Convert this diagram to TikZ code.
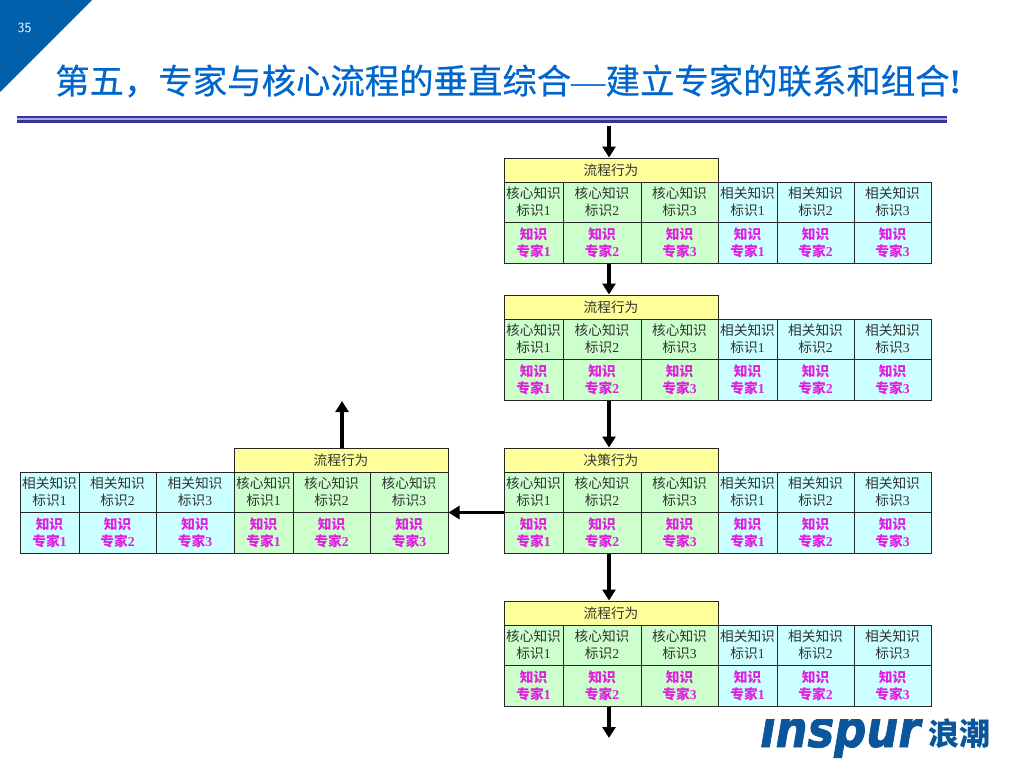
\documentclass[tikz,border=0pt]{standalone}
\usepackage{fontspec}
\setmainfont{Liberation Serif}
\newfontfamily\cjk{Noto Sans CJK SC}
\newfontfamily\titlecjk[FakeBold=0.5]{Noto Sans CJK SC}
\newfontfamily\logofont[FakeBold=1.6]{DejaVu Sans}
\usetikzlibrary{arrows.meta}
\definecolor{titleblue}{HTML}{0066CC}
\definecolor{cornerblue}{HTML}{0060AC}
\definecolor{logoblue}{HTML}{0B559B}
\definecolor{headyellow}{HTML}{FFFF99}
\definecolor{coregreen}{HTML}{CCFFCC}
\definecolor{relcyan}{HTML}{CCFFFF}
\definecolor{expertpink}{HTML}{E01FE0}
\definecolor{ruleblue}{HTML}{363698}
\definecolor{rulelight}{HTML}{A8A8E0}
\tikzset{
  cell/.style={draw=black!85,line width=1pt,inner sep=0pt,align=center,
    font=\fontsize{13.7}{17}\selectfont,text=black!80},
  expert/.style={cell,font=\fontsize{13.7}{17}\selectfont\bfseries,text=expertpink},
  flow/.style={line width=3.4pt,-{Triangle[length=11pt,width=13pt]}},
}
% one cell: style, name, left, right, top, bottom, fill, text
\newcommand{\cellat}[8]{%
  \node[#1,fill=#7,minimum width={(#4)-(#3)},minimum height={(#6)-(#5)}]
    (#2) at ({((#3)+(#4))/2},{((#5)+(#6))/2}) {#8};}
% pair of cells in one column: name, left, right, top, fill, kind, number
\newcommand{\column}[7]{%
  \cellat{cell}{#1a}{#2}{#3}{#4}{#4+40}{#5}{{\cjk #6知识}\\{\cjk 标识}#7}
  \cellat{expert}{#1b}{#2}{#3}{#4+40}{#4+81}{#5}{{\cjk 知识}\\{\cjk 专家}#7}}
% core cells on the left of related cells
\newcommand{\mainblock}[3]{%
  \begin{scope}[shift={(0,#2)}]
    \cellat{cell}{#1h}{504}{718}{0}{24}{headyellow}{\cjk #3}
    \column{#1c1}{504}{563}{24}{coregreen}{核心}{1}
    \column{#1c2}{563}{641}{24}{coregreen}{核心}{2}
    \column{#1c3}{641}{718}{24}{coregreen}{核心}{3}
    \column{#1r1}{718}{777}{24}{relcyan}{相关}{1}
    \column{#1r2}{777}{854}{24}{relcyan}{相关}{2}
    \column{#1r3}{854}{931}{24}{relcyan}{相关}{3}
  \end{scope}}

\begin{document}
\begin{tikzpicture}[x=1pt,y=-1pt]
  \useasboundingbox (0,0) rectangle (1024,768);
  \fill[cornerblue] (0,0) -- (92,0) -- (0,92) -- cycle;
  \node[text=white,font=\fontsize{14}{14}\selectfont\sffamily] (pagenum) at (24.5,28) {35};
  \node[text=titleblue,anchor=west,inner sep=0pt,font=\fontsize{34.4}{36}\selectfont\titlecjk] (title)
    at (55,81) {第五，专家与核心流程的垂直综合{\rmfamily —}建立专家的联系和组合{\rmfamily\bfseries !}};
  \fill[ruleblue] (17,116) rectangle (947,123);
  \fill[rulelight] (17,118.3) rectangle (947,119.5);

  \mainblock{one}{158}{流程行为}
  \mainblock{two}{295}{流程行为}
  \mainblock{three}{448}{决策行为}
  \mainblock{four}{601}{流程行为}

  % side block, reached from the decision
  \begin{scope}[shift={(0,448)}]
    \cellat{cell}{sideh}{234}{448}{0}{24}{headyellow}{\cjk 流程行为}
    \column{sider1}{20}{79}{24}{relcyan}{相关}{1}
    \column{sider2}{79}{156}{24}{relcyan}{相关}{2}
    \column{sider3}{156}{234}{24}{relcyan}{相关}{3}
    \column{sidec1}{234}{293}{24}{coregreen}{核心}{1}
    \column{sidec2}{293}{370}{24}{coregreen}{核心}{2}
    \column{sidec3}{370}{448}{24}{coregreen}{核心}{3}
  \end{scope}

  \coordinate (topin) at (609,126);
  \coordinate (bottomout) at (609,738);
  \coordinate (sideout) at (342,401);
  \draw[flow] (topin) -- (topin |- oneh.north);
  \draw[flow] (topin |- onec2b.south) -- (topin |- twoh.north);
  \draw[flow] (topin |- twoc2b.south) -- (topin |- threeh.north);
  \draw[flow] (topin |- threec2b.south) -- (topin |- fourh.north);
  \draw[flow] (topin |- fourc2b.south) -- (bottomout);
  \draw[flow] (sideout |- sideh.north) -- (sideout);
  \draw[flow] (threec1a.south west) -- (sidec3a.south east);

  % logo
  \begin{scope}
    \clip (755,719) rectangle (925,762);
    \node[text=logoblue,anchor=base west,inner sep=0pt,xscale=0.88,
      font=\fontsize{51}{51}\selectfont\logofont\bfseries\itshape] (logo) at (760,747) {inspur};
  \end{scope}
  \node[text=logoblue,anchor=base west,inner sep=0pt,
    font=\fontsize{31}{31}\selectfont\cjk\bfseries] (logocn) at (928,745) {浪潮};
\end{tikzpicture}
\end{document}
